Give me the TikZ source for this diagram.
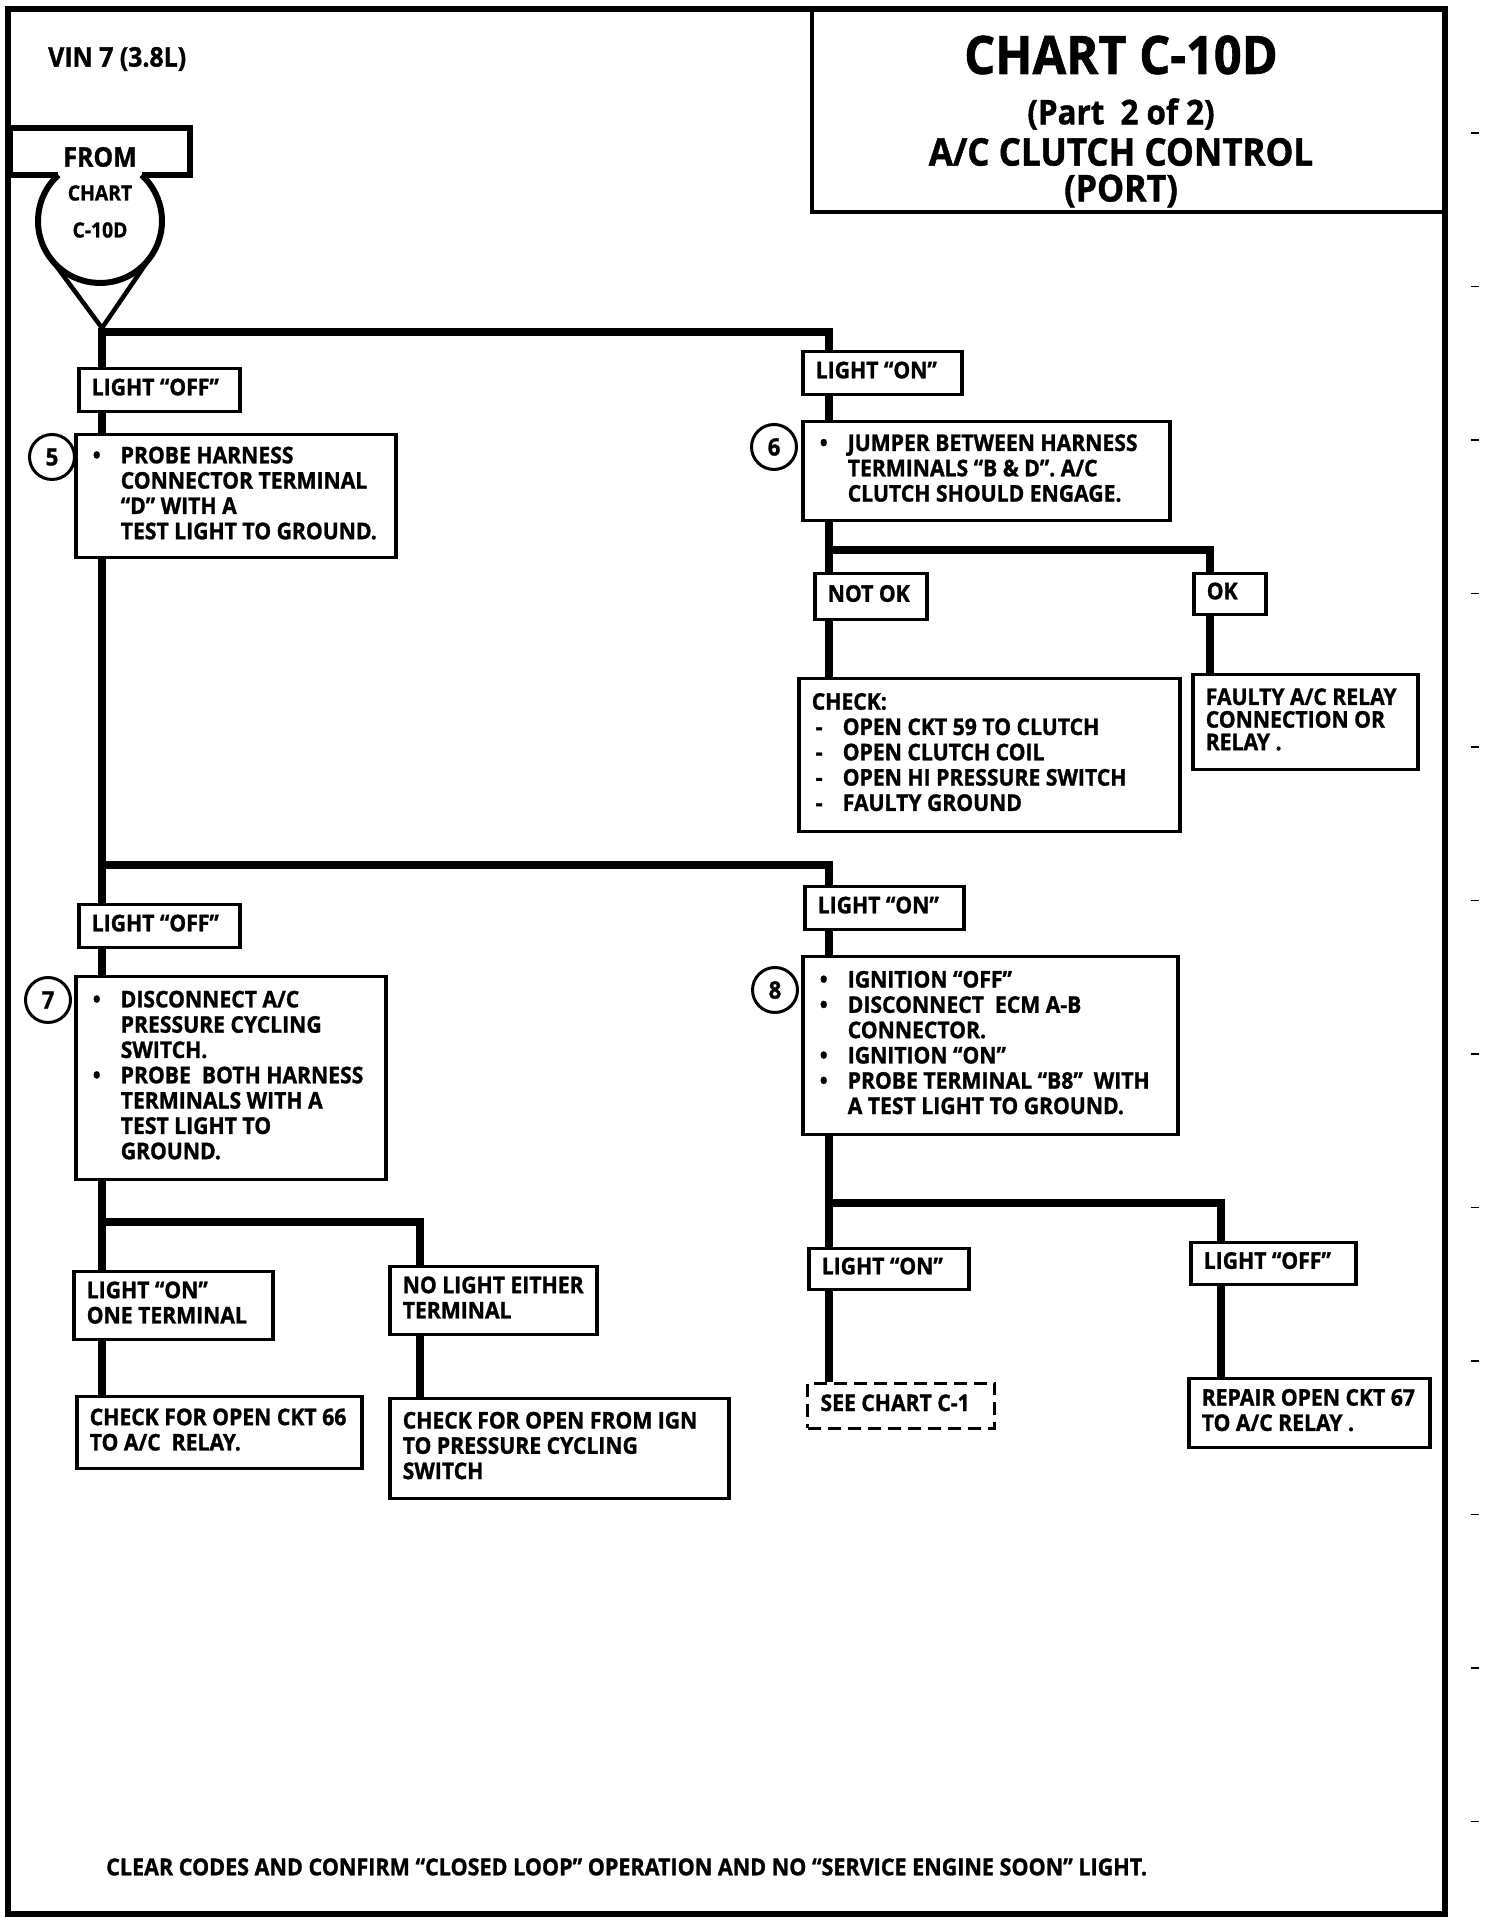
\documentclass[tikz,border=0pt]{standalone}
\usepackage{fontspec}
\setmainfont{Open Sans}[FakeStretch=0.92, BoldFeatures={FakeBold=1.2}]
\usetikzlibrary{calc}

% box contents: fixed width, lines never wrap
\newcommand{\tx}[2]{\makebox[\dimexpr#1pt-26pt\relax][l]{\begin{tabular}{@{}l@{}}#2\end{tabular}}}
\newcommand{\bul}{\makebox[32pt][l]{\hspace{4pt}\textbullet}}
\newcommand{\cont}{\hspace*{32pt}}
\newcommand{\dsh}{\makebox[31pt][l]{\hspace{4pt}-}}

\tikzset{
  x=1pt, y=1pt,
  wire/.style={line width=7.5pt},
  frame/.style={line width=5.5pt},
  box/.style={draw, line width=3.5pt, anchor=north west, inner xsep=13pt, inner ysep=0pt,
    font=\bfseries\fontsize{23}{25.3}\selectfont},
  dbox/.style={box, dash pattern=on 13pt off 7pt, line width=3pt},
  num/.style={draw, circle, line width=3pt, minimum size=45pt, inner sep=0pt,
    font=\bfseries\fontsize{24}{24}\selectfont},
  lbl/.style={font=\bfseries\fontsize{#1}{#1}\selectfont, inner sep=0pt},
}

\begin{document}
\begin{tikzpicture}
\useasboundingbox (0,0) rectangle (1504,1922);
\draw[frame] (8,8) rectangle (1445,1913);
\draw[line width=4.5pt] (812,1913) |- (1445,1710);
\foreach \k in {0,...,11}
  \draw[line width=1.5pt] (1471,{1789-153.5*\k}) -- ++(8,0);

% title block
\node[lbl=53] (ttl) at (1121,1867) {CHART C-10D};
\node[lbl=34] (part) at (1121,1808) {(Part\ \ 2 of 2)};
\node[lbl=38] (sub) at (1121,1770) {A/C CLUTCH CONTROL};
\node[lbl=37] (port) at (1121,1731) {(PORT)};
\node[lbl=27, anchor=west] (vin) at (48,1863) {VIN 7 (3.8L)};

% entry symbol
\coordinate (apex) at (102,1594);
\node[circle, minimum size=124pt, inner sep=0pt, outer sep=0pt] (src) at (100,1701) {};
\draw[frame] (58.4,1747) -- (10,1747) -- (10,1794) -- (190,1794) -- (190,1747) -- (141.6,1747);
\draw[line width=6pt] (src.center) ++(132.1:62) arc[start angle=132.1, end angle=407.9, radius=62];
\draw[line width=4.5pt] (tangent cs:node=src,point={(apex)},solution=1) -- (apex)
  -- (tangent cs:node=src,point={(apex)},solution=2);
\node[lbl=27] (fromlbl) at (100,1765) {FROM};
\node[lbl=21] (chartlbl) at (100,1729) {CHART};
\node[lbl=21] (chartno) at (100,1692) {C-10D};

% boxes
\node[box, minimum height=43pt] (off1) at (77,1555) {\tx{161}{LIGHT “OFF”}};
\node[box, minimum height=123pt] (step5) at (74,1489) {\tx{320}{\bul PROBE HARNESS\\
  \cont CONNECTOR TERMINAL\\ \cont “D” WITH A\\ \cont TEST LIGHT TO GROUND.}};
\node[box, minimum height=43pt] (on1) at (801,1572) {\tx{159}{LIGHT “ON”}};
\node[box, minimum height=99pt] (step6) at (801,1502) {\tx{367}{\bul JUMPER BETWEEN HARNESS\\
  \cont TERMINALS “B \& D”. A/C\\ \cont CLUTCH SHOULD ENGAGE.}};
\node[box, minimum height=46pt] (notok) at (813,1350) {\tx{112}{NOT OK}};
\node[box, minimum height=41pt] (ok) at (1192,1350) {\tx{72}{OK}};
\node[box, minimum height=153pt] (chk) at (797,1245) {\tx{381}{CHECK:\\
  \dsh OPEN CKT 59 TO CLUTCH\\ \dsh OPEN CLUTCH COIL\\ \dsh OPEN HI PRESSURE SWITCH\\
  \dsh FAULTY GROUND}};
\node[box, minimum height=95pt] (relay) at (1191,1249) {\fontsize{23}{20}\selectfont
  \tx{225}{FAULTY A/C RELAY\\ CONNECTION OR\\ RELAY .}};
\node[box, minimum height=43pt] (off2) at (77,1019) {\tx{161}{LIGHT “OFF”}};
\node[box, minimum height=203pt] (step7) at (74,947) {\tx{310}{\bul DISCONNECT A/C\\
  \cont PRESSURE CYCLING\\ \cont SWITCH.\\ \bul PROBE\ \ BOTH HARNESS\\
  \cont TERMINALS WITH A\\ \cont TEST LIGHT TO\\ \cont GROUND.}};
\node[box, minimum height=68pt] (oneterm) at (72,652) {\tx{199}{LIGHT “ON”\\ ONE TERMINAL}};
\node[box, minimum height=68pt] (nolight) at (388,657) {\tx{207}{NO LIGHT EITHER\\ TERMINAL}};
\node[box, minimum height=72pt] (ckt66) at (75,527) {\tx{285}{CHECK FOR OPEN CKT 66\\
  TO A/C\ \ RELAY.}};
\node[box, minimum height=100pt] (ign) at (388,525) {\tx{339}{CHECK FOR OPEN FROM IGN\\
  TO PRESSURE CYCLING\\ SWITCH}};
\node[box, minimum height=43pt] (on2) at (803,1037) {\tx{159}{LIGHT “ON”}};
\node[box, minimum height=178pt] (step8) at (801,967) {\tx{375}{\bul IGNITION “OFF”\\
  \bul DISCONNECT\ \ ECM A-B\\ \cont CONNECTOR.\\ \bul IGNITION “ON”\\
  \bul PROBE TERMINAL “B8”\ \ WITH\\ \cont A TEST LIGHT TO GROUND.}};
\node[box, minimum height=41pt] (on3) at (807,675) {\tx{160}{LIGHT “ON”}};
\node[box, minimum height=42pt] (off3) at (1189,681) {\tx{165}{LIGHT “OFF”}};
\node[dbox, minimum height=45pt] (seec1) at (806,540) {\tx{187}{SEE CHART C-1}};
\node[box, minimum height=69pt] (repair) at (1187,545) {\tx{241}{REPAIR OPEN CKT 67\\
  TO A/C RELAY .}};

% step numbers
\node[num] (n5) at (52,1465) {5};
\node[num] (n6) at (774,1475) {6};
\node[num] (n7) at (48,922) {7};
\node[num] (n8) at (775,932) {8};

% connectors
\coordinate (L) at (102,0);
\coordinate (Lb) at (420,0);
\coordinate (R) at (829,0);
\coordinate (Rok) at (1210,0);
\coordinate (Rb) at (1221,0);
\coordinate (s1) at (102,1590);
\coordinate (s2) at (102,1057);
\coordinate (s6) at (829,1372);
\coordinate (s7) at (102,700);
\coordinate (s8) at (829,719);

\draw[wire] (apex) -- (off1.north -| L);
\draw[wire] (s1) -| (on1.north -| R);
\draw[wire] (off1.south -| L) -- (step5.north -| L);
\draw[wire] (step5.south -| L) -- (off2.north -| L);
\draw[wire] (s2) -| (on2.north -| R);
\draw[wire] (off2.south -| L) -- (step7.north -| L);
\draw[wire] (step7.south -| L) -- (oneterm.north -| L);
\draw[wire] (s7) -| (nolight.north -| Lb);
\draw[wire] (oneterm.south -| L) -- (ckt66.north -| L);
\draw[wire] (nolight.south -| Lb) -- (ign.north -| Lb);
\draw[wire] (on1.south -| R) -- (step6.north -| R);
\draw[wire] (step6.south -| R) -- (notok.north -| R);
\draw[wire] (s6) -| (ok.north -| Rok);
\draw[wire] (notok.south -| R) -- (chk.north -| R);
\draw[wire] (ok.south -| Rok) -- (relay.north -| Rok);
\draw[wire] (on2.south -| R) -- (step8.north -| R);
\draw[wire] (step8.south -| R) -- (on3.north -| R);
\draw[wire] (s8) -| (off3.north -| Rb);
\draw[wire] (on3.south -| R) -- (seec1.north -| R);
\draw[wire] (off3.south -| Rb) -- (repair.north -| Rb);

\node[lbl=23.4, anchor=west] (note) at (106,55)
  {CLEAR CODES AND CONFIRM “CLOSED LOOP” OPERATION AND NO “SERVICE ENGINE SOON” LIGHT.};
\end{tikzpicture}
\end{document}
